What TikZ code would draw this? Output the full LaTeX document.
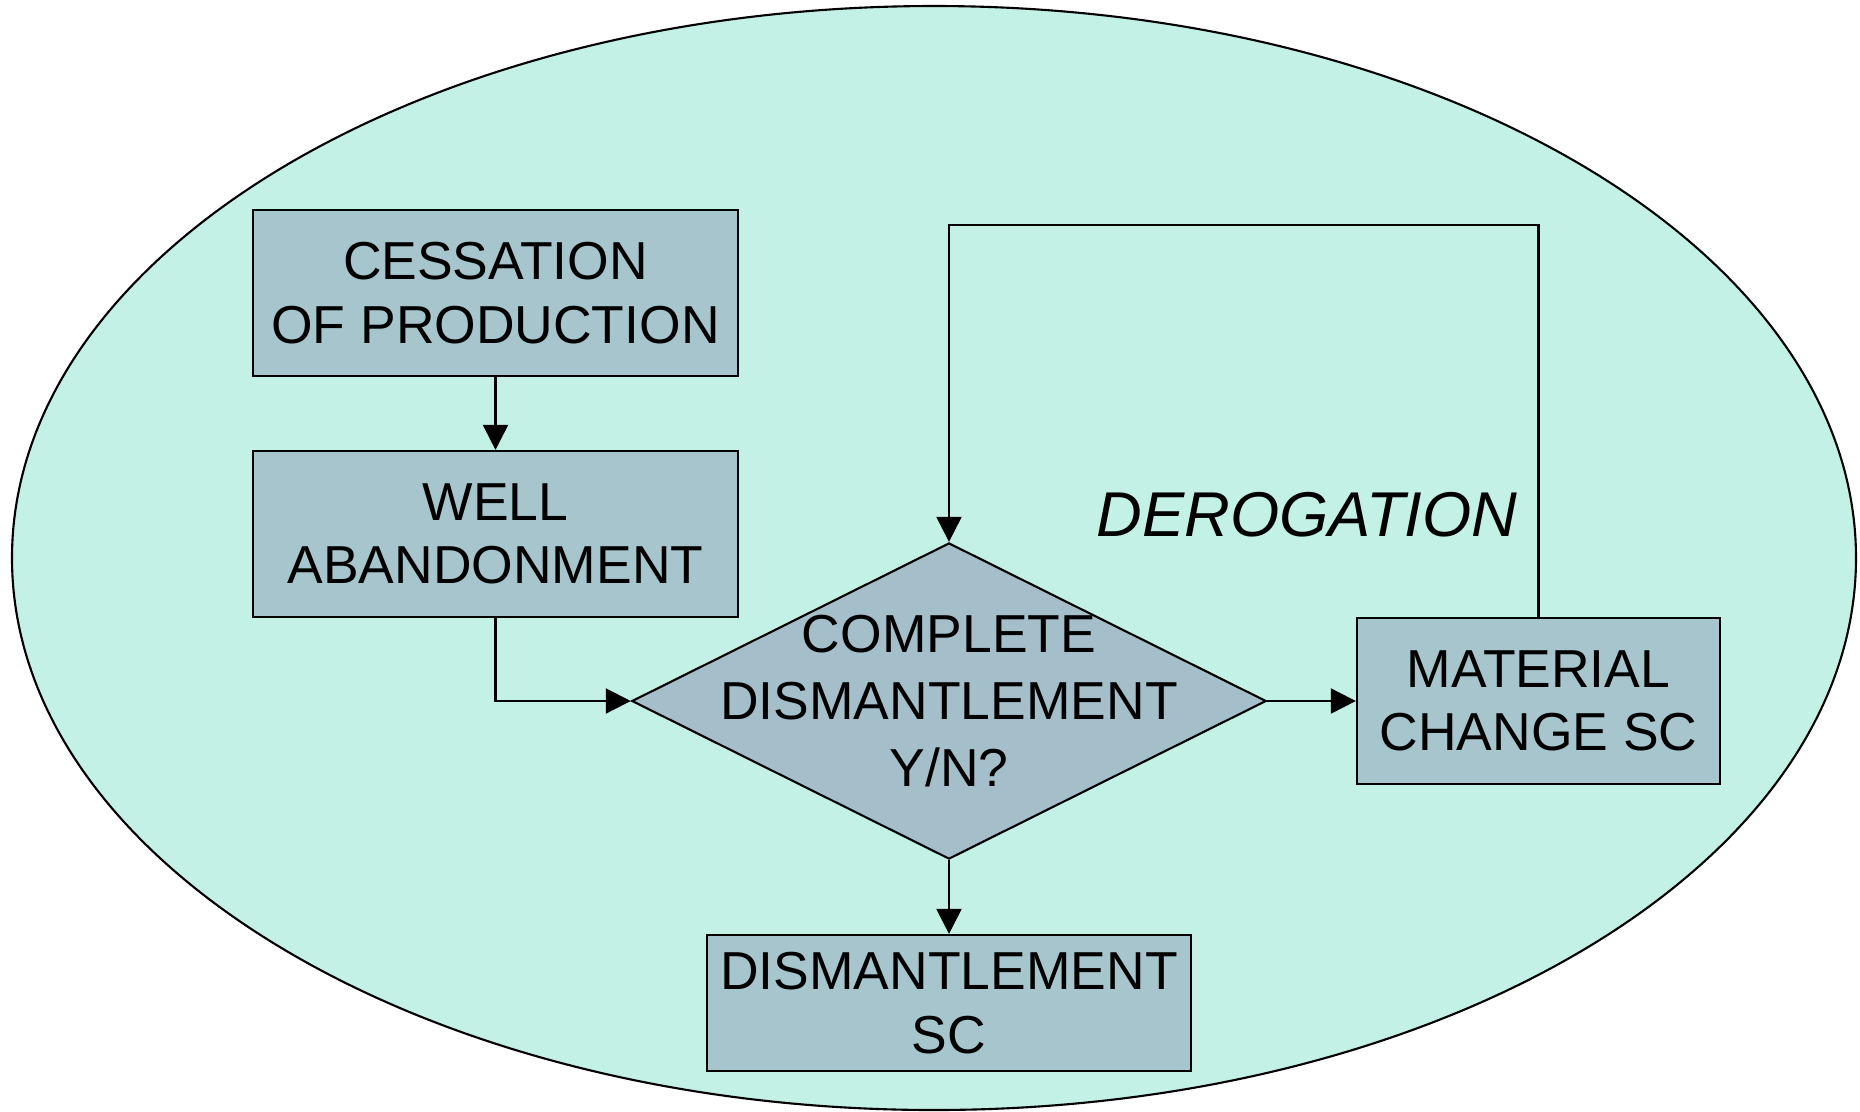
\documentclass[tikz,border=0pt]{standalone}
\usepackage{fontspec}
\setmainfont{Liberation Sans}
\usetikzlibrary{shapes.geometric,arrows.meta}

\definecolor{lagoon}{HTML}{C4F1E6}
\definecolor{boxblue}{HTML}{A7C5CC}
\definecolor{diamblue}{HTML}{A4BFCA}

\tikzset{
  stage/.style={draw, line width=0.6pt, fill=boxblue, align=center,
    inner sep=0pt, font=\fontsize{15.2}{18}\selectfont},
  decision/.style={draw, line width=0.6pt, fill=diamblue, diamond,
    inner sep=0pt, minimum width=6.34cm, minimum height=3.16cm},
  flow/.style={line width=0.6pt, -{Triangle[length=0.25cm,width=0.25cm]}}
}

\begin{document}
\begin{tikzpicture}[x=0.01cm, y=-0.01cm]
  \useasboundingbox (0,0) rectangle (1860,1111);

  % Background ellipse
  \draw[fill=lagoon, line width=0.6pt] (934,558) ellipse [x radius=922, y radius=552];

  % Stages
  \node[stage, minimum width=4.85cm, minimum height=1.66cm] (cessation) at (495.5,293)
    {CESSATION\\OF PRODUCTION};
  \node[stage, minimum width=4.85cm, minimum height=1.66cm] (well) at (495.5,534)
    {WELL\\ABANDONMENT};
  \node[decision] (choice) at (949,701) {};
  \node[align=center, font=\fontsize{15.2}{19}\selectfont] (choiceText) at (choice)
    {COMPLETE\\DISMANTLEMENT\\Y/N?};
  \node[stage, minimum width=3.63cm, minimum height=1.66cm] (material) at (1538.5,701)
    {MATERIAL\\CHANGE SC};
  \node[stage, minimum width=4.84cm, minimum height=1.36cm] (dismantle) at (949,1003)
    {DISMANTLEMENT\\SC};

  % Label
  \node[font=\fontsize{18}{22}\selectfont\itshape] (derogation) at (1307,515) {DEROGATION};

  % Connectors
  \coordinate (loopTop) at (1200,225);
  \draw[flow] (cessation) -- (well);
  \draw[flow] (well.south) |- (choice.west);
  \draw[flow] (choice.east) -- (material.west);
  \draw[flow] (choice.south) -- (dismantle.north);
  \draw[flow] (material.north) |- (loopTop) -| (choice.north);
\end{tikzpicture}
\end{document}
